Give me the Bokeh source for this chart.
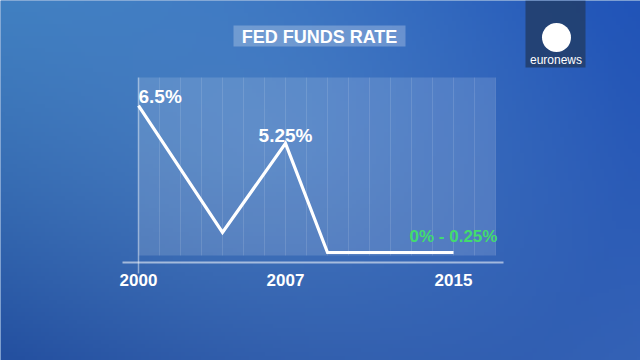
import numpy as np
from bokeh.plotting import figure
from bokeh.models import Range1d
from bokeh.core.properties import value
from bokeh.embed import file_html
from bokeh.resources import INLINE

# ---- data ----
years = [2000, 2004, 2007, 2009, 2015]
rate_drawn = [6.5, 1.0, 4.86, 0.13, 0.13]   # heights as drawn in the graphic
label_text = ["6.5%", "5.25%", "0% - 0.25%"]
label_year = [2000, 2007, 2015]
label_val = [6.5, 4.86, 0.13]
tick_years = [2000, 2007, 2015]
tick_labels = ["2000", "2007", "2015"]
grid_years = list(range(2001, 2018))
title_text = "FED FUNDS RATE"

# ---- layout: screen mapping ----
W, H = 640, 360
X0_PX, PX_PER_YEAR = 138.0, 21.0
Y0_PX, PX_PER_UNIT = 255.0, 23.06
x_start = 2000 - X0_PX / PX_PER_YEAR
x_end = x_start + W / PX_PER_YEAR
y_end = Y0_PX / PX_PER_UNIT
y_start = y_end - H / PX_PER_UNIT


def sx(px):
    return x_start + px / PX_PER_YEAR


def sy(py):
    return y_end - py / PX_PER_UNIT


p = figure(width=W, height=H, output_backend="svg", toolbar_location=None,
           x_range=Range1d(x_start, x_end), y_range=Range1d(y_start, y_end),
           min_border=0, min_border_left=0, min_border_right=0,
           min_border_top=0, min_border_bottom=0)
p.axis.visible = False
p.grid.visible = False
p.outline_line_color = None
p.background_fill_color = "#3a72bb"
p.border_fill_color = "#3a72bb"

# background gradient
nx, ny = 160, 90
gx = np.linspace(0, 1, nx)[None, :]
gy = np.linspace(0, 1, ny)[:, None]   # 0 = bottom, 1 = top
TL = np.array([62, 125, 192.0]); TR = np.array([33, 84, 184.0])
BL = np.array([36, 80, 160.0]); BR = np.array([52, 98, 182.0])
col = (TL[None, None, :] * ((1 - gx) * gy)[..., None] + TR * (gx * gy)[..., None]
       + BL * ((1 - gx) * (1 - gy))[..., None] + BR * (gx * (1 - gy))[..., None])
d = np.sqrt(((gx - 0.42) * 1.5) ** 2 + (gy - 0.6) ** 2)
blob = np.clip(1 - d / 0.85, 0, 1)[..., None] * np.array([24, 24, 12.0])
col = np.clip(col + blob, 0, 255).astype(np.uint32)
img = (255 << 24) | (col[..., 2] << 16) | (col[..., 1] << 8) | col[..., 0]
p.image_rgba(image=[img.astype(np.uint32)], x=x_start, y=y_start,
             dw=x_end - x_start, dh=y_end - y_start)

# chart panel
panel_top = sy(77)
p.quad(left=2000, right=2017, bottom=0, top=panel_top,
       fill_color="white", fill_alpha=0.14, line_color=None)
p.segment(x0=grid_years, x1=grid_years, y0=[0] * len(grid_years),
          y1=[panel_top] * len(grid_years), line_color="white", line_alpha=0.12,
          line_width=1)
axis_y = sy(262)
p.segment(x0=[2000], x1=[2000], y0=[sy(273)], y1=[panel_top],
          line_color="white", line_alpha=0.45, line_width=1.5)
p.segment(x0=[sx(122)], x1=[sx(503)], y0=[axis_y], y1=[axis_y],
          line_color="white", line_alpha=0.55, line_width=2)

# data line
p.line(years, rate_drawn, line_color="white", line_width=3.2, line_join="miter")

# value labels (alphabetic baseline renders ~0.4em low in svg; compensate)
font = value("Liberation Sans")
p.text(x=[label_year[0]], y=[label_val[0]], text=[label_text[0]], text_align="left",
       text_baseline="alphabetic", y_offset=-9, text_color="white",
       text_font=font, text_font_style="bold", text_font_size="19px")
p.text(x=[label_year[1]], y=[label_val[1]], text=[label_text[1]], text_align="center",
       text_baseline="alphabetic", y_offset=-8, text_color="white",
       text_font=font, text_font_style="bold", text_font_size="19px")
p.text(x=[label_year[2]], y=[label_val[2]], text=[label_text[2]], text_align="center",
       text_baseline="alphabetic", y_offset=-16, text_color="#42dc6e",
       text_font=font, text_font_style="bold", text_font_size="17px")

# year tick labels
p.text(x=tick_years, y=[axis_y] * len(tick_years), text=tick_labels, text_align="center",
       text_baseline="alphabetic", y_offset=17, text_color="white",
       text_font=font, text_font_style="bold", text_font_size="17px")

# title box
p.quad(left=sx(233), right=sx(405), bottom=sy(46), top=sy(25),
       fill_color="white", fill_alpha=0.25, line_color=None)
p.text(x=[sx(319)], y=[sy(36)], text=[title_text], text_align="center",
       text_baseline="alphabetic", text_color="white", text_font=font,
       text_font_style="bold", text_font_size="18px")

# logo
p.quad(left=sx(525), right=sx(585), bottom=sy(67), top=sy(0),
       fill_color="#223f6e", fill_alpha=0.9, line_color=None)
p.scatter(x=[sx(556)], y=[sy(37)], size=29, marker="circle",
          fill_color="white", line_color=None)
p.text(x=[sx(555.5)], y=[sy(59)], text=["euronews"], text_align="center",
       text_baseline="alphabetic", text_color="white", text_font=font,
       text_font_size="12px")

open("out.html", "w").write(file_html(p, INLINE))
